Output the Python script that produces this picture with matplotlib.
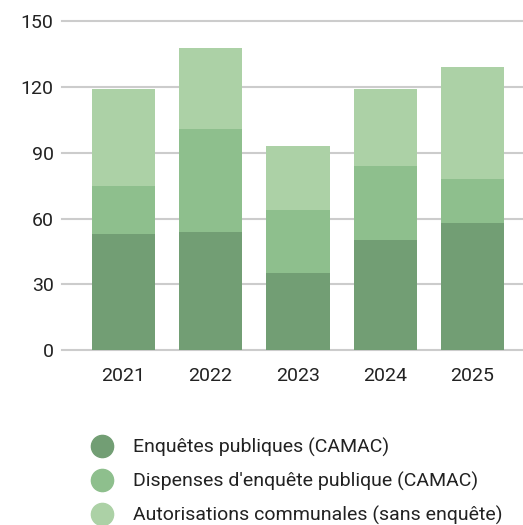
import matplotlib.pyplot as plt
from matplotlib.lines import Line2D

years = ['2021', '2022', '2023', '2024', '2025']
enquetes = [53, 54, 35, 50, 58]
dispenses = [22, 47, 29, 34, 20]
autorisations = [44, 37, 29, 35, 51]

labels = ['Enquêtes publiques (CAMAC)',
          "Dispenses d'enquête publique (CAMAC)",
          'Autorisations communales (sans enquête)']
colors = ['#729e74', '#8ebf8d', '#acd1a6']

plt.rcParams['font.family'] = ['Roboto', 'DejaVu Sans']

fig = plt.figure(figsize=(5.23, 5.25), dpi=100)
ax = fig.add_axes([62 / 523, 175 / 525, 461 / 523, 328.7 / 525])

x = list(range(len(years)))
bottom2 = [a + b for a, b in zip(enquetes, dispenses)]
ax.bar(x, enquetes, width=0.725, color=colors[0], zorder=2)
ax.bar(x, dispenses, width=0.725, bottom=enquetes, color=colors[1], zorder=2)
ax.bar(x, autorisations, width=0.725, bottom=bottom2, color=colors[2], zorder=2)

ax.set_xlim(-0.702, 4.578)
ax.set_ylim(0, 150)
ax.set_yticks([0, 30, 60, 90, 120, 150])
ax.set_xticks(x)
ax.set_xticklabels(years)
ax.yaxis.grid(True, color='#cccccc', linewidth=1.5, zorder=0)
for s in ax.spines.values():
    s.set_visible(False)
ax.tick_params(axis='both', length=0, labelsize=14, labelcolor='#222222')
ax.tick_params(axis='y', pad=6)
ax.tick_params(axis='x', pad=12)
for line in ax.get_ygridlines():
    line.set_clip_on(False)

handles = [Line2D([], [], marker='o', linestyle='', markersize=16,
                  markerfacecolor=c, markeredgecolor=c) for c in colors]
fig.legend(handles, labels, loc='upper left', bbox_to_anchor=(92.3 / 523, 87.5 / 525),
           frameon=False, fontsize=14, handlelength=1.0, handletextpad=1.1,
           labelspacing=0.76, borderpad=0, borderaxespad=0, labelcolor='#222222')

fig.savefig('out.png', dpi=100)
